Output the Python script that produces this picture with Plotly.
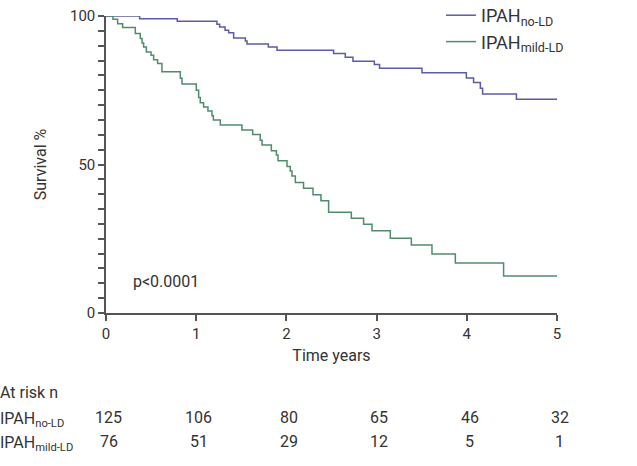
import plotly.graph_objects as go

# Kaplan-Meier step data (time in years, survival %)
no_ld_time = [0, 0.373, 0.79, 1.23, 1.26, 1.32, 1.36, 1.415, 1.545, 1.563, 1.80, 1.896,
              2.523, 2.653, 2.738, 2.975, 3.033, 3.503, 3.995, 4.075, 4.15, 4.175, 4.55, 5.0]
no_ld_surv = [100, 99.1, 98.2, 97.2, 96.3, 95.2, 94.4, 92.6, 91.6, 90.6, 89.6, 88.5,
              87.4, 86.1, 84.8, 83.7, 82.4, 80.9, 79.1, 77.6, 75.7, 73.7, 72.0, 72.0]

mild_ld_time = [0, 0.077, 0.129, 0.184, 0.325, 0.38, 0.40, 0.417, 0.447, 0.499, 0.528, 0.572,
                0.62, 0.824, 0.843, 1.001, 1.027, 1.045, 1.082, 1.13, 1.175, 1.19, 1.267,
                1.507, 1.626, 1.71, 1.73, 1.833, 1.889, 1.907, 2.007, 2.043, 2.062, 2.099,
                2.19, 2.295, 2.383, 2.468, 2.72, 2.856, 2.949, 3.152, 3.385, 3.614, 3.873,
                4.408, 5.0]
mild_ld_surv = [100, 98.9, 97.4, 96.1, 94.1, 92.4, 90.9, 89.6, 87.9, 86.8, 85.3, 84.0,
                81.2, 79.0, 77.1, 75.0, 72.6, 70.8, 69.4, 68.0, 66.4, 65.0, 63.3,
                61.6, 60.1, 58.2, 56.6, 54.6, 53.2, 51.3, 49.3, 47.8, 46.1, 43.9,
                42.0, 39.8, 37.8, 33.9, 31.9, 29.9, 27.7, 25.2, 22.9, 19.9, 16.8,
                12.5, 12.5]

risk_times = [0, 1, 2, 3, 4, 5]
risk_no_ld = [125, 106, 80, 65, 46, 32]
risk_mild_ld = [76, 51, 29, 12, 5, 1]

x_ticks = [0, 1, 2, 3, 4, 5]
y_ticks = [0, 50, 100]

BLUE = "#5b5ba8"
GREEN = "#4f8c6c"
TXT = "#333333"
AX = "#555555"
FONT = "Roboto"

W, H = 637, 466
L, R, T, B = 106, 80, 16, 153
pw, ph = W - L - R, H - T - B

def px(xp):
    return (xp - L) / pw

def py(yp):
    return (H - B - yp) / ph

fig = go.Figure()
fig.add_trace(go.Scatter(x=no_ld_time, y=no_ld_surv, mode="lines", line_shape="hv",
                         line=dict(color=BLUE, width=1.5), name="IPAH<sub>no-LD</sub>",
                         cliponaxis=False))
fig.add_trace(go.Scatter(x=mild_ld_time, y=mild_ld_surv, mode="lines", line_shape="hv",
                         line=dict(color=GREEN, width=1.5), name="IPAH<sub>mild-LD</sub>",
                         cliponaxis=False))

fig.update_layout(
    width=W, height=H,
    margin=dict(l=L, r=R, t=T, b=B, autoexpand=False),
    plot_bgcolor="white", paper_bgcolor="white",
    font=dict(family=FONT, size=15, color=TXT),
    showlegend=True,
    legend=dict(x=px(441), y=py(-3), xanchor="left", yanchor="top",
                font=dict(size=18, color=TXT), bgcolor="rgba(0,0,0,0)",
                tracegroupgap=0, itemwidth=30),
)
fig.update_xaxes(range=[0, 5], tickvals=x_ticks, ticktext=[str(v) for v in x_ticks],
                 showgrid=False, zeroline=False, showline=True, linecolor=AX, linewidth=1.5,
                 ticks="outside", ticklen=6, tickcolor=AX, tickwidth=1.5, automargin=False,
                 tickfont=dict(size=15, color=TXT),
                 title=dict(text="Time years", standoff=8, font=dict(size=16, color=TXT)))
fig.update_yaxes(range=[0, 100], tickvals=y_ticks, ticktext=[str(v) for v in y_ticks],
                 showgrid=False, zeroline=False, showline=True, linecolor=AX, linewidth=1.5,
                 ticks="outside", ticklen=6, tickcolor=AX, tickwidth=1.5, automargin=False,
                 tickfont=dict(size=15, color=TXT),
                 minor=dict(dtick=5, ticks="outside", ticklen=6, tickcolor=AX, tickwidth=1.5, showgrid=False),
                 title=dict(text="Survival %", standoff=19, font=dict(size=16, color=TXT)))

fig.add_annotation(x=0.28, y=10.5, xref="x", yref="y", text="p<0.0001", showarrow=False,
                   xanchor="left", yanchor="middle", font=dict(size=16, color=TXT))

fig.add_annotation(x=px(-2), y=py(392), xref="paper", yref="paper", text="At risk n",
                   showarrow=False, xanchor="left", yanchor="middle", font=dict(size=16, color=TXT))
fig.add_annotation(x=px(-2), y=py(419), xref="paper", yref="paper", text="IPAH<sub>no-LD</sub>",
                   showarrow=False, xanchor="left", yanchor="middle", font=dict(size=16, color=TXT))
fig.add_annotation(x=px(-2), y=py(443), xref="paper", yref="paper", text="IPAH<sub>mild-LD</sub>",
                   showarrow=False, xanchor="left", yanchor="middle", font=dict(size=16, color=TXT))
for t, a, b in zip(risk_times, risk_no_ld, risk_mild_ld):
    xp = (t + 0.03) / 5.0
    fig.add_annotation(x=xp, y=py(417), xref="paper", yref="paper", text=str(a),
                       showarrow=False, xanchor="center", yanchor="middle", font=dict(size=16, color=TXT))
    fig.add_annotation(x=xp, y=py(441), xref="paper", yref="paper", text=str(b),
                       showarrow=False, xanchor="center", yanchor="middle", font=dict(size=16, color=TXT))

fig.write_html("out.html", config={"displayModeBar": False},
               post_script="document.body.style.margin='0';document.body.style.overflow='hidden';")
